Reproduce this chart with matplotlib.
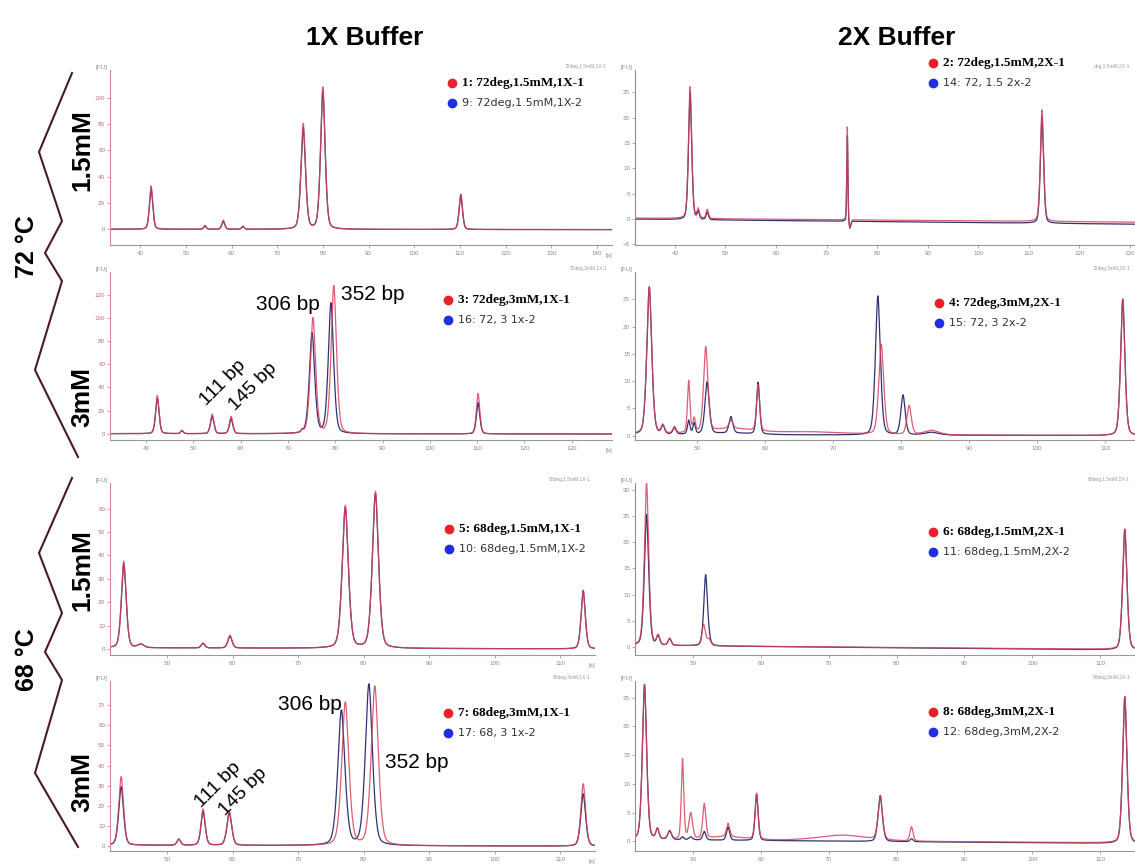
import matplotlib.pyplot as plt
import numpy as np

plt.rcParams['font.family'] = ['Liberation Sans', 'DejaVu Sans']

# ---- labels ----
col_titles = ['1X Buffer', '2X Buffer']
temp_labels = ['72 °C', '68 °C']
mg_labels = ['1.5mM', '3mM', '1.5mM', '3mM']

legend_red = ['1: 72deg,1.5mM,1X-1', '2: 72deg,1.5mM,2X-1',
              '3: 72deg,3mM,1X-1', '4: 72deg,3mM,2X-1',
              '5: 68deg,1.5mM,1X-1', '6: 68deg,1.5mM,2X-1',
              '7: 68deg,3mM,1X-1', '8: 68deg,3mM,2X-1']
legend_blue = ['9: 72deg,1.5mM,1X-2', '14: 72, 1.5 2x-2',
               '16: 72, 3 1x-2', '15: 72, 3 2x-2',
               '10: 68deg,1.5mM,1X-2', '11: 68deg,1.5mM,2X-2',
               '17: 68, 3 1x-2', '12: 68deg,3mM,2X-2']
corner_tags = ['72deg,1.5mM,1X-1', 'deg,1.5mM,2X-1', '72deg,3mM,1X-1',
               '72deg,3mM,2X-1', '68deg,1.5mM,1X-1', '68deg,1.5mM,2X-1',
               '68deg,3mM,1X-1', '68deg,3mM,2X-1']
bp_labels = ['306 bp', '352 bp', '111 bp', '145 bp']

# ---- peak tables ----
# time [s], width [s], red height, blue height, blue time shift [s]
p1_t = [42.4, 54.2, 58.2, 62.5, 75.7, 80.0, 110.2]
p1_w = [0.4, 0.3, 0.35, 0.3, 0.55, 0.55, 0.4]
p1_red = [33, 3, 7, 2.5, 80, 108, 27]
p1_blue = [31, 2.5, 6, 2, 77, 105, 26]
p1_dt = [0, 0, 0, 0, 0, 0, 0]

p2_t = [43.0, 44.6, 46.4, 74.1, 74.6, 112.6]
p2_w = [0.35, 0.25, 0.25, 0.12, 0.2, 0.35]
p2_red = [26, 1.8, 1.8, 18.5, -2.0, 22]
p2_blue = [25, 1.5, 1.5, 17, -1.5, 21]
p2_dt = [0, 0, 0, 0, 0, 0]

p3_t = [42.4, 47.6, 54.0, 58.0, 73.0, 75.3, 79.7, 110.2]
p3_w = [0.4, 0.3, 0.4, 0.4, 0.25, 0.62, 0.62, 0.4]
p3_red = [33, 3, 17, 15, 2, 100, 128, 35]
p3_blue = [31, 2.5, 15, 13, 2, 87, 113, 27]
p3_dt = [0, 0, 0, 0, 0, -0.2, -0.6, 0]

p4_t = [43.0, 45.0, 46.7, 48.8, 49.6, 51.3, 55.0, 55.0, 59.0, 66.0, 77.1, 81.2, 84.5, 112.6]
p4_w = [0.4, 0.25, 0.25, 0.2, 0.2, 0.35, 3.5, 0.3, 0.25, 6.0, 0.4, 0.35, 1.2, 0.35]
p4_red = [27, 1.5, 1.2, 9.5, 2.5, 15.5, 1.0, 1.5, 8.5, 0.5, 16.5, 5.3, 0.8, 25]
p4_blue = [27, 1.5, 1.2, 2.5, 2.0, 9.5, 0.3, 3.0, 9.5, 0.0, 25.5, 7.3, 0.5, 25]
p4_dt = [0, 0, 0, 0, 0, 0.2, 0, 0, 0, 0, -0.5, -0.9, 0, 0]

p5_t = [43.4, 46.0, 55.5, 59.6, 77.2, 81.8, 113.5]
p5_w = [0.4, 0.5, 0.3, 0.35, 0.52, 0.52, 0.35]
p5_red = [37, 1.5, 2, 5.5, 61, 67, 25]
p5_blue = [36, 1.5, 2, 5, 60, 66, 25]
p5_dt = [0, 0, 0, 0, 0, 0, 0]

p6_t = [43.2, 44.9, 46.6, 51.6, 52.4, 113.6]
p6_w = [0.35, 0.25, 0.25, 0.3, 0.3, 0.35]
p6_red = [31, 1.8, 1.3, 4, 1.2, 23]
p6_blue = [25, 1.8, 1.3, 13.5, 0.5, 23]
p6_dt = [0, 0, 0, 0.3, 0, 0]

p7_t = [43.0, 51.8, 55.5, 59.5, 77.2, 81.7, 113.5]
p7_w = [0.4, 0.3, 0.35, 0.4, 0.6, 0.6, 0.4]
p7_red = [34, 3, 18, 17, 71, 79, 31]
p7_blue = [29, 3, 17, 16, 67, 80, 26]
p7_dt = [0, 0, 0, 0, -0.6, -0.9, 0]

p8_t = [42.9, 44.8, 46.6, 48.5, 49.7, 51.7, 55.0, 55.2, 59.4, 72.0, 77.6, 82.2, 113.6]
p8_w = [0.35, 0.25, 0.3, 0.2, 0.3, 0.25, 3.0, 0.25, 0.25, 4.0, 0.35, 0.25, 0.35]
p8_red = [27, 1.8, 1.5, 14, 4.5, 6, 0.6, 2.3, 8, 1.0, 7.5, 2.5, 25.5]
p8_blue = [27, 1.8, 1.5, 0.5, 0.5, 1.5, 0.0, 2.3, 8, 0.0, 8, 0.5, 25.5]
p8_dt = [0, 0, 0, 0, 0, 0, 0, 0, 0, 0, 0, 0, 0]

peaks = [(p1_t, p1_w, p1_red, p1_blue, p1_dt), (p2_t, p2_w, p2_red, p2_blue, p2_dt),
         (p3_t, p3_w, p3_red, p3_blue, p3_dt), (p4_t, p4_w, p4_red, p4_blue, p4_dt),
         (p5_t, p5_w, p5_red, p5_blue, p5_dt), (p6_t, p6_w, p6_red, p6_blue, p6_dt),
         (p7_t, p7_w, p7_red, p7_blue, p7_dt), (p8_t, p8_w, p8_red, p8_blue, p8_dt)]

# baseline at start / end of each trace (red, blue)
base_red = [(0, -0.3), (0.2, -0.6), (0, -0.3), (0.3, 0), (0.5, 0), (0.3, -0.5), (0.5, 0), (0.3, -0.3)]
base_blue = [(0, -0.3), (0, -1.0), (0, -0.3), (0.2, 0), (0.5, 0), (0.3, -0.6), (0.5, 0), (0.3, -0.4)]

# axis ranges
x_lims = [(33.4, 143.3), (32.1, 131.0), (32.4, 138.5), (40.9, 114.4),
          (41.3, 115.3), (41.5, 115.1), (41.3, 115.3), (41.5, 115.1)]
y_lims = [(-12, 121), (-5.1, 29.4), (-5.5, 140), (-0.8, 30.0),
          (-2.6, 71), (-1.55, 31.3), (-2.4, 82), (-1.7, 27.9)]
y_ticks = [np.arange(0, 101, 20), np.arange(-5, 26, 5), np.arange(0, 121, 20), np.arange(0, 26, 5),
           np.arange(0, 61, 10), np.arange(0, 31, 5), np.arange(0, 71, 10), np.arange(0, 26, 5)]

W, H = 1135, 865
boxes = [(110, 70, 612, 245), (635, 70, 1135, 245),
         (110, 272, 612, 440), (635, 272, 1135, 440),
         (110, 483, 595, 655), (635, 483, 1135, 655),
         (110, 681, 595, 851), (635, 681, 1135, 851)]
legend_xy = [(452, 83), (933, 63), (448, 300), (939, 303),
             (449, 529), (933, 532), (448, 713), (933, 712)]


def trace(t, times, heights, widths, shift, base):
    y = np.linspace(base[0], base[1], t.size)
    for t0, h, w, dt in zip(times, heights, widths, shift):
        u = (t - t0 - dt) / w
        y += h * (0.6 * np.exp(-0.5 * u ** 2) + 0.4 / (1 + (1.2 * u) ** 2))
    return y


fig = plt.figure(figsize=(W / 100, H / 100), dpi=100)

for i, (l, tp, r, b) in enumerate(boxes):
    ax = fig.add_axes([l / W, 1 - b / H, (r - l) / W, (b - tp) / H])
    times, widths, red, blue, dt = peaks[i]
    t = np.linspace(x_lims[i][0], x_lims[i][1], 4000)
    y_blue = trace(t, times, blue, widths, dt, base_blue[i])
    y_red = trace(t, times, red, widths, [0] * len(times), base_red[i])
    ax.plot(t, y_blue, color='#2f3372', lw=0.9)
    ax.plot(t, y_red, color='#d8405c', lw=0.9, alpha=0.85)
    ax.set_xlim(x_lims[i])
    ax.set_ylim(y_lims[i])
    ax.set_yticks(y_ticks[i])
    ax.set_xticks(np.arange(np.ceil(x_lims[i][0] / 10) * 10, x_lims[i][1], 10))
    left_col = i % 2 == 0
    spine_col = '#d88a9a' if left_col else '#909090'
    lab_col = '#c27085' if left_col else '#8a8a8a'
    for s in ['top', 'right']:
        ax.spines[s].set_visible(False)
    ax.spines['left'].set_color(spine_col)
    ax.spines['bottom'].set_color('#999999')
    ax.spines['left'].set_linewidth(0.8)
    ax.spines['bottom'].set_linewidth(0.8)
    ax.tick_params(axis='y', labelsize=4.5, colors=lab_col, length=2.5, width=0.5, pad=1)
    ax.tick_params(axis='x', labelsize=4.5, colors='#8a8a8a', length=2.5, width=0.5, pad=2)
    ax.text(-0.005, 1.0, '[FU]', transform=ax.transAxes, fontsize=4.5, color='#8a8a8a',
            ha='right', va='bottom')
    ax.text(0.99, 1.005, corner_tags[i], transform=ax.transAxes, fontsize=3.5, color='#9a9a9a',
            ha='right', va='bottom')
    if left_col:
        ax.text(1.0, -0.045, '[s]', transform=ax.transAxes, fontsize=4.5, color='#8a8a8a',
                ha='right', va='top')
    ax.patch.set_alpha(0)

# overlay in pixel coordinates for labels and brackets
ov = fig.add_axes([0, 0, 1, 1])
ov.set_xlim(0, W)
ov.set_ylim(H, 0)
ov.axis('off')
ov.patch.set_alpha(0)

ov.text(365, 38, col_titles[0], fontsize=19, fontweight='bold', ha='center', va='center')
ov.text(897, 38, col_titles[1], fontsize=19, fontweight='bold', ha='center', va='center')

# legends
for i, (x, y) in enumerate(legend_xy):
    ov.plot(x, y, 'o', color='#e8202a', ms=6)
    ov.plot(x, y + 20, 'o', color='#1f2ee0', ms=6)
    ov.text(x + 10, y, legend_red[i], family='Liberation Serif', fontweight='bold',
            fontsize=9.5, ha='left', va='center')
    ov.text(x + 10, y + 20, legend_blue[i], family='DejaVu Sans',
            fontsize=8, color='#333333', ha='left', va='center')

# fragment size labels
for (x, y), lab, rot in zip([(288, 304), (373, 294), (223, 383), (253, 387)], bp_labels, [0, 0, 45, 45]):
    ov.text(x, y, lab, fontsize=15 if rot == 0 else 14, rotation=rot, ha='center', va='center')
for (x, y), lab, rot in zip([(310, 705), (417, 762), (218, 785), (243, 792)], bp_labels, [0, 0, 45, 45]):
    ov.text(x, y, lab, fontsize=15 if rot == 0 else 14, rotation=rot, ha='center', va='center')

# brackets
br_x = [72, 39, 62, 45, 62, 35, 78]
br_y_top = [73, 152, 221, 253, 281, 370, 457]
br_y_bot = [478, 553, 613, 652, 680, 773, 847]
ov.plot(br_x, br_y_top, color='#4b1a24', lw=1.5)
ov.plot(br_x, br_y_bot, color='#4b1a24', lw=1.5)

ov.text(27, 247, temp_labels[0], fontsize=18, fontweight='bold', rotation=90, ha='center', va='center')
ov.text(27, 660, temp_labels[1], fontsize=18, fontweight='bold', rotation=90, ha='center', va='center')
for y, lab in zip([150, 397, 570, 782], mg_labels):
    ov.text(82, y, lab, fontsize=19, fontweight='bold', rotation=90, ha='center', va='center')

plt.savefig('out.png', dpi=100)
